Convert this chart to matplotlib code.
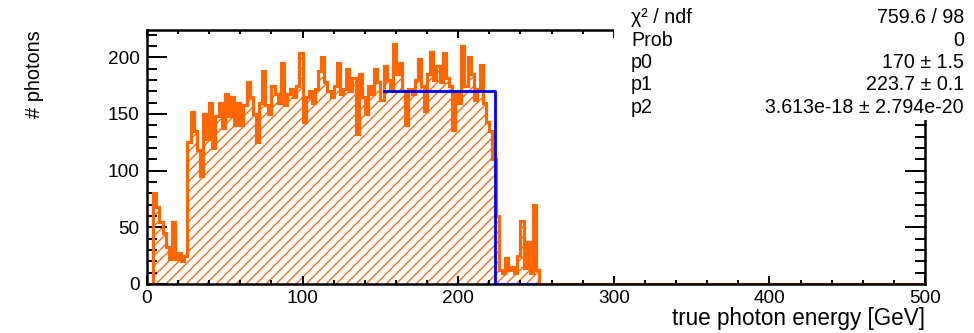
import numpy as np
import matplotlib
matplotlib.use('Agg')
import matplotlib.pyplot as plt
from matplotlib.patches import Rectangle

# ---------------- data ----------------
bin_width = 2.0          # GeV
x_range = (0, 500)
y_range = (0, 224)
# counts per 2 GeV bin from 0 to 252 GeV (all later bins are empty)
counts_low = [
    0, 0, 80, 68, 55, 45, 33, 22, 55, 22,          # 0-20
    27, 20, 25, 125, 152, 135, 118, 95, 150, 128,   # 20-40
    160, 120, 148, 160, 138, 168, 148, 165, 140, 160,  # 40-60
    140, 158, 178, 165, 150, 125, 160, 188, 158, 150,  # 60-80
    175, 168, 160, 195, 158, 168, 172, 165, 175, 204,  # 80-100
    143, 165, 170, 160, 172, 188, 200, 178, 170, 165,  # 100-120
    175, 195, 168, 172, 190, 170, 182, 132, 185, 165,  # 120-140
    150, 175, 168, 190, 178, 162, 192, 180, 170, 212,  # 140-160
    185, 195, 170, 140, 172, 168, 180, 198, 175, 153,  # 160-180
    185, 205, 180, 192, 178, 204, 182, 175, 136, 170,  # 180-200
    160, 210, 175, 200, 185, 162, 172, 193, 160, 143,  # 200-220
    135, 110, 60, 12, 10, 23, 12, 15, 10, 25,          # 220-240
    56, 14, 37, 10, 70, 12,                            # 240-252
]
# fit: step function p0 for x < p1, drawn over the fit range
fit_lo, fit_hi = 152.0, 250.0
p0, p1 = 170.0, 223.7
stats_names = ["χ² / ndf", "Prob", "p0", "p1", "p2"]
stats_values = ["759.6 / 98", "0", "170 ± 1.5", "223.7 ± 0.1",
                "3.613e-18 ± 2.794e-20"]
x_ticks = [0, 100, 200, 300, 400, 500]
y_ticks = [0, 50, 100, 150, 200]
x_title = "true photon energy [GeV]"
y_title = "# photons"

# ---------------- figure ----------------
W, H, DPI = 974, 333, 120
plt.rcParams['font.family'] = ['Liberation Sans', 'DejaVu Sans']
plt.rcParams['hatch.linewidth'] = 0.8
fig = plt.figure(figsize=(W / DPI, H / DPI), dpi=DPI)
ax = fig.add_axes([147 / W, 1 - 284 / H, (925 - 147) / W, (284 - 30) / H])

orange = '#ff6600'
edges = np.arange(x_range[0], x_range[1] + bin_width / 2, bin_width)
counts = np.zeros(len(edges) - 1)
counts[:len(counts_low)] = counts_low

ax.stairs(counts, edges, fill=True, facecolor='none', edgecolor=orange,
          hatch='////', linewidth=0, zorder=1)
ax.stairs(counts, edges, color=orange, linewidth=1.9, zorder=2)

fx = np.array([fit_lo, p1, p1, fit_hi])
fy = np.array([p0, p0, 0.0, 0.0])
ax.plot(fx, fy, color='#0000ff', linewidth=1.7, zorder=3)

ax.set_xlim(*x_range)
ax.set_ylim(*y_range)
ax.set_xticks(x_ticks)
ax.set_yticks(y_ticks)
ax.set_xticks(np.arange(x_range[0], x_range[1] + 1, 20), minor=True)
ax.set_yticks(np.arange(0, y_range[1], 10), minor=True)
for s in ax.spines.values():
    s.set_linewidth(1.5)
ax.tick_params(axis='both', which='both', direction='in', top=True,
               right=True, width=1.2, labelsize=11.4)
ax.tick_params(axis='y', which='major', length=12, pad=4.5)
ax.tick_params(axis='y', which='minor', length=6)
ax.tick_params(axis='x', which='major', length=4.8, pad=3.5)
ax.tick_params(axis='x', which='minor', length=2.5)

fig.text(925 / W, 1 - 319 / H, x_title, ha='right', va='center', fontsize=13.5)
fig.text(35 / W, 1 - 30 / H, y_title, ha='center', va='top', rotation=90,
         fontsize=12)

# stats box
fig.add_artist(Rectangle((614 / W, 1 - 120 / H), (W - 614) / W, 120 / H,
                         transform=fig.transFigure, facecolor='white',
                         edgecolor='none', zorder=10))
baselines = [23, 45.5, 68, 90.5, 113]
for name, val, yb in zip(stats_names, stats_values, baselines):
    fig.text(631 / W, 1 - yb / H, name, ha='left', va='baseline',
             fontsize=11.8, zorder=11)
    fig.text(964 / W, 1 - yb / H, val, ha='right', va='baseline',
             fontsize=11.8, zorder=11)

fig.savefig('out.png', dpi=DPI)
